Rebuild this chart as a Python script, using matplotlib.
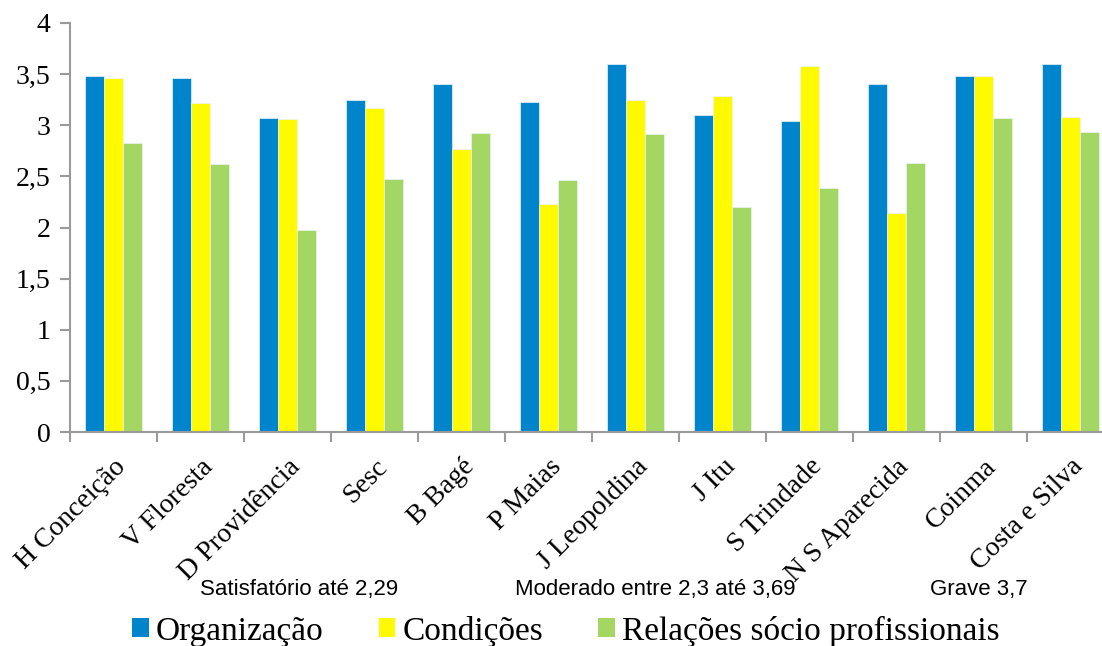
import numpy as np
import matplotlib
matplotlib.use('Agg')
from matplotlib import pyplot as plt
from matplotlib.patches import Patch

# scores per unit
unidades = ['H Conceição', 'V Floresta', 'D Providência', 'Sesc', 'B Bagé', 'P Maias',
            'J Leopoldina', 'J Itu', 'S Trindade', 'N S Aparecida', 'Coinma', 'Costa e Silva']
organizacao = [3.48, 3.46, 3.07, 3.25, 3.40, 3.23, 3.60, 3.10, 3.04, 3.40, 3.48, 3.60]
condicoes   = [3.46, 3.22, 3.06, 3.17, 2.77, 2.23, 3.25, 3.29, 3.58, 2.14, 3.48, 3.08]
relacoes    = [2.83, 2.62, 1.98, 2.47, 2.92, 2.46, 2.91, 2.20, 2.39, 2.63, 3.07, 2.93]
series_names = ['Organização', 'Condições', 'Relações sócio profissionais']
yticks = [0, 0.5, 1, 1.5, 2, 2.5, 3, 3.5, 4]
ytick_labels = ['0', '0,5', '1', '1,5', '2', '2,5', '3', '3,5', '4']

colors = ['#0084CC', '#FFFA00', '#A3D662']
grey = '#9A9A9A'
serif = ['Liberation Serif', 'DejaVu Serif']
narrow = ['Liberation Sans Narrow', 'Liberation Sans', 'DejaVu Sans']

fig = plt.figure(figsize=(11.02, 6.46), dpi=100)
ax = fig.add_axes([70/1102, 1-432/646, 1044/1102, 409/646])

x = np.arange(len(unidades))
w = 0.218
for k, vals in enumerate([organizacao, condicoes, relacoes]):
    ax.bar(x + (k-1)*w, vals, width=w, color=colors[k], edgecolor='#EAF4FA',
           linewidth=0.5, zorder=2)

ax.set_xlim(-0.5, len(unidades)-0.5)
ax.set_ylim(0, 4)
ax.set_yticks(yticks)
ax.set_yticklabels(ytick_labels, family=serif, fontsize=20)
ax.set_xticks(x)
ax.set_xticklabels(unidades, family=serif, fontsize=20, rotation=45,
                   ha='right', va='top', rotation_mode='anchor')
ax.tick_params(axis='x', which='major', length=0, pad=16)
ax.set_xticks(np.arange(-0.5, len(unidades), 1), minor=True)
ax.tick_params(axis='x', which='minor', length=7, width=1.5, color=grey)
ax.tick_params(axis='y', length=7, width=1.5, color=grey, pad=7)

for s in ['top', 'right']:
    ax.spines[s].set_visible(False)
for s in ['left', 'bottom']:
    ax.spines[s].set_color(grey)
    ax.spines[s].set_linewidth(1.5)

# classification ranges
fig.text(200/1102, 1-590/646, 'Satisfatório até 2,29', family=narrow, fontsize=16, va='center')
fig.text(515/1102, 1-590/646, 'Moderado entre 2,3 até 3,69', family=narrow, fontsize=16, va='center')
fig.text(930/1102, 1-590/646, 'Grave 3,7', family=narrow, fontsize=16, va='center')

handles = [Patch(facecolor=c, edgecolor='none') for c in colors]
fig.legend(handles, series_names, loc='center', bbox_to_anchor=(566/1102, 1-631/646),
           ncol=3, frameon=False, prop={'family': serif, 'size': 24},
           handlelength=0.5, handleheight=0.5, handletextpad=0.22, columnspacing=1.65,
           borderaxespad=0, borderpad=0)

fig.savefig('out.png', dpi=100)
